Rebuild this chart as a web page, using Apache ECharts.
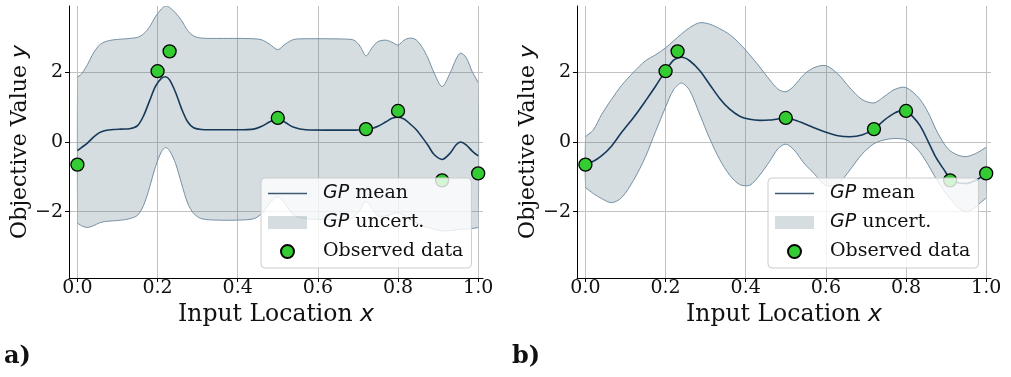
<!DOCTYPE html>
<html>
<head>
<meta charset="utf-8">
<script src="https://cdn.jsdelivr.net/npm/echarts@6/dist/echarts.min.js"></script>
<style>
html,body{margin:0;padding:0;background:#fff;}
#chart{width:1011px;height:377px;}
</style>
</head>
<body>
<div id="chart"></div>
<script>
// ---------- data ----------
const obsX = [0.0, 0.2, 0.23, 0.5, 0.72, 0.8, 0.91, 1.0];
const obsY = [-0.65, 2.03, 2.6, 0.69, 0.37, 0.89, -1.1, -0.9];

const xA = [0, 0.01, 0.025, 0.04, 0.055, 0.07, 0.09, 0.11, 0.13, 0.15, 0.165, 0.18, 0.195, 0.21, 0.22, 0.23, 0.245, 0.26, 0.275, 0.29, 0.31, 0.35, 0.40, 0.44, 0.46, 0.48, 0.50, 0.52, 0.54, 0.57, 0.62, 0.67, 0.69, 0.705, 0.72, 0.735, 0.75, 0.77, 0.785, 0.80, 0.815, 0.83, 0.845, 0.86, 0.875, 0.89, 0.91, 0.93, 0.945, 0.956, 0.97, 0.985, 1.0];
const meanA = [-0.25, -0.16, -0.03, 0.14, 0.27, 0.33, 0.36, 0.37, 0.38, 0.47, 0.75, 1.18, 1.6, 1.83, 1.87, 1.78, 1.42, 0.95, 0.58, 0.41, 0.36, 0.35, 0.35, 0.37, 0.45, 0.58, 0.68, 0.55, 0.42, 0.35, 0.34, 0.34, 0.34, 0.35, 0.36, 0.39, 0.45, 0.58, 0.68, 0.71, 0.66, 0.52, 0.36, 0.14, -0.1, -0.36, -0.5, -0.32, -0.08, 0.0, -0.08, -0.26, -0.4];
const upperA = [1.86, 1.95, 2.22, 2.55, 2.78, 2.88, 2.93, 2.95, 2.97, 3.0, 3.1, 3.3, 3.6, 3.82, 3.9, 3.86, 3.7, 3.48, 3.2, 3.04, 2.98, 2.97, 2.97, 2.96, 2.93, 2.8, 2.65, 2.82, 2.94, 2.96, 2.96, 2.95, 2.92, 2.75, 2.47, 2.7, 2.88, 2.92, 2.86, 2.78, 2.92, 2.98, 2.93, 2.72, 2.4, 1.98, 1.59, 1.98, 2.38, 2.55, 2.42, 2.02, 1.7];
const lowerA = [-2.32, -2.4, -2.45, -2.4, -2.32, -2.28, -2.26, -2.24, -2.2, -2.1, -1.82, -1.3, -0.7, -0.27, -0.16, -0.25, -0.62, -1.2, -1.75, -2.05, -2.2, -2.24, -2.24, -2.2, -2.05, -1.75, -1.57, -1.8, -2.1, -2.2, -2.22, -2.22, -2.15, -1.95, -1.71, -1.9, -2.12, -2.12, -2.07, -2.03, -2.12, -2.22, -2.32, -2.4, -2.45, -2.5, -2.55, -2.54, -2.52, -2.5, -2.5, -2.48, -2.45];

const xB = [0, 0.02, 0.04, 0.065, 0.09, 0.12, 0.15, 0.175, 0.2, 0.22, 0.24, 0.26, 0.285, 0.31, 0.335, 0.36, 0.385, 0.41, 0.435, 0.46, 0.48, 0.50, 0.52, 0.545, 0.57, 0.6, 0.63, 0.66, 0.69, 0.72, 0.745, 0.77, 0.79, 0.80, 0.815, 0.835, 0.855, 0.875, 0.895, 0.91, 0.93, 0.95, 0.97, 0.985, 1.0];
const meanB = [-0.62, -0.55, -0.4, -0.12, 0.27, 0.7, 1.18, 1.6, 2.04, 2.35, 2.43, 2.33, 2.05, 1.65, 1.25, 0.94, 0.74, 0.65, 0.62, 0.63, 0.66, 0.68, 0.64, 0.53, 0.41, 0.28, 0.18, 0.15, 0.2, 0.37, 0.62, 0.82, 0.9, 0.89, 0.75, 0.47, 0.02, -0.45, -0.8, -1.05, -1.17, -1.19, -1.12, -1.02, -0.9];
const upperB = [0.15, 0.35, 0.78, 1.22, 1.62, 2.0, 2.33, 2.5, 2.7, 2.9, 3.1, 3.28, 3.42, 3.38, 3.25, 3.08, 2.82, 2.5, 2.15, 1.78, 1.52, 1.44, 1.6, 1.93, 2.13, 2.19, 1.95, 1.55, 1.22, 1.12, 1.3, 1.5, 1.57, 1.56, 1.45, 1.22, 0.85, 0.35, -0.05, -0.25, -0.38, -0.42, -0.35, -0.26, -0.15];
const lowerB = [-1.3, -1.48, -1.62, -1.74, -1.6, -1.1, -0.42, 0.3, 1.0, 1.5, 1.69, 1.48, 0.8, 0.1, -0.5, -0.95, -1.22, -1.24, -0.95, -0.55, -0.2, -0.06, -0.22, -0.6, -0.9, -1.25, -1.2, -0.8, -0.35, -0.05, 0.06, 0.1, 0.09, 0.07, -0.05, -0.3, -0.65, -1.05, -1.4, -1.62, -1.88, -2.0, -1.9, -1.75, -1.6];

const xTicks = [0, 0.2, 0.4, 0.6, 0.8, 1.0];
const yTicks = [-2, 0, 2];
const legendNames = ['GP mean', 'GP uncert.', 'Observed data'];

// ---------- style ----------
const FILL = 'rgba(64,100,120,0.22)';
const EDGE = '#7590a5';
const MEAN = '#16395a';
const GREEN = '#33cc33';
const SERIF = '"DejaVu Serif"';
const SANS = '"DejaVu Sans"';
const TICK_FS = 19;

function bandRenderer(xs, up, lo) {
  return function (params, api) {
    if (params.dataIndex !== 0) return null;
    const U = xs.map((x, i) => api.coord([x, up[i]]));
    const L = xs.map((x, i) => api.coord([x, lo[i]]));
    const poly = U.concat(L.slice().reverse());
    return {
      type: 'group',
      children: [
        {type: 'polygon', shape: {points: poly, smooth: 0.3}, style: {fill: FILL, stroke: null}},
        {type: 'polyline', shape: {points: U, smooth: 0.3}, style: {stroke: EDGE, lineWidth: 1, fill: null}},
        {type: 'polyline', shape: {points: L, smooth: 0.3}, style: {stroke: EDGE, lineWidth: 1, fill: null}}
      ]
    };
  };
}

function makeX(gi) {
  return {
    type: 'value', gridIndex: gi, min: -0.021, max: 1.012,
    axisLine: {show: true, onZero: false, lineStyle: {color: '#000', width: 1}},
    axisTick: {show: true, length: 4, lineStyle: {color: '#000'}, customValues: xTicks},
    axisLabel: {customValues: xTicks, formatter: v => v.toFixed(1), fontFamily: SERIF, fontSize: TICK_FS, color: '#111', margin: 1},
    splitLine: {show: true, lineStyle: {color: '#c2c2c2', width: 1}},
    name: 'Input Location {i|x}', nameLocation: 'middle', nameGap: 20,
    nameTextStyle: {fontFamily: SERIF, fontSize: 23.5, color: '#111', verticalAlign: 'top',
      rich: {i: {fontFamily: SANS, fontStyle: 'italic', fontSize: 23.5, color: '#111'}}}
  };
}
function makeY(gi) {
  return {
    type: 'value', gridIndex: gi, min: -3.9, max: 3.9,
    axisLine: {show: true, onZero: false, lineStyle: {color: '#000', width: 1}},
    axisTick: {show: true, length: 4, lineStyle: {color: '#000'}, customValues: yTicks},
    axisLabel: {customValues: yTicks, formatter: v => (v < 0 ? '\u2212' + Math.abs(v) : String(v)), fontFamily: SERIF, fontSize: TICK_FS, color: '#111', margin: 6},
    splitLine: {show: true, lineStyle: {color: '#c2c2c2', width: 1}},
    name: 'Objective Value {i|y}', nameLocation: 'middle', nameGap: 37,
    nameTextStyle: {fontFamily: SERIF, fontSize: 22, color: '#111',
      rich: {i: {fontFamily: SANS, fontStyle: 'italic', fontSize: 22, color: '#111'}}}
  };
}
function makeLegend(left) {
  return {
    left: left, top: 178, orient: 'vertical',
    itemWidth: 39, itemHeight: 13, itemGap: 10,
    padding: [6, 8, 7, 7],
    symbolKeepAspect: true,
    backgroundColor: 'rgba(255,255,255,0.8)', borderColor: '#cccccc', borderWidth: 1, borderRadius: 4,
    data: [
      {name: legendNames[0], icon: 'path://M0,0H39V1.6H0Z', itemStyle: {color: '#3c5a76', borderWidth: 0}},
      {name: legendNames[1], icon: 'rect', itemStyle: {color: FILL, borderWidth: 0}},
      {name: legendNames[2], icon: 'circle'}
    ],
    formatter: n => n.replace(/^GP/, '{i|GP}'),
    textStyle: {fontFamily: SERIF, fontSize: 19, color: '#111', padding: [0, 0, 0, 11],
      rich: {i: {fontFamily: SANS, fontStyle: 'italic', fontSize: 19, color: '#111'}}}
  };
}
function makeSeries(gi, xs, mean, up, lo) {
  return [
    {type: 'custom', name: legendNames[1], xAxisIndex: gi, yAxisIndex: gi, z: 1, clip: true,
     itemStyle: {color: FILL}, data: [[0, 0]], renderItem: bandRenderer(xs, up, lo), silent: true},
    {type: 'line', name: legendNames[0], xAxisIndex: gi, yAxisIndex: gi, z: 2,
     data: xs.map((x, i) => [x, mean[i]]), smooth: 0.3, symbol: 'none',
     lineStyle: {color: MEAN, width: 1.6}, itemStyle: {color: MEAN}, silent: true},
    {type: 'scatter', name: legendNames[2], xAxisIndex: gi, yAxisIndex: gi, z: 3,
     data: obsX.map((x, i) => [x, obsY[i]]), symbol: 'circle', symbolSize: 13,
     itemStyle: {color: GREEN, borderColor: '#000', borderWidth: 1.3, opacity: 1}, silent: true}
  ];
}

const chart = echarts.init(document.getElementById('chart'), null, {renderer: 'canvas'});
chart.setOption({
  animation: false,
  backgroundColor: '#fff',
  grid: [
    {left: 69, top: 6, width: 414, height: 272, containLabel: false},
    {left: 577, top: 6, width: 414, height: 272, containLabel: false}
  ],
  xAxis: [makeX(0), makeX(1)],
  yAxis: [makeY(0), makeY(1)],
  legend: [makeLegend(261), makeLegend(768)],
  series: makeSeries(0, xA, meanA, upperA, lowerA).concat(makeSeries(1, xB, meanB, upperB, lowerB)),
  graphic: [
    {type: 'text', left: 4, top: 345, style: {text: 'a)', font: 'bold 24px ' + SERIF, fill: '#111'}},
    {type: 'text', left: 512, top: 345, style: {text: 'b)', font: 'bold 24px ' + SERIF, fill: '#111'}}
  ]
});
</script>
</body>
</html>
